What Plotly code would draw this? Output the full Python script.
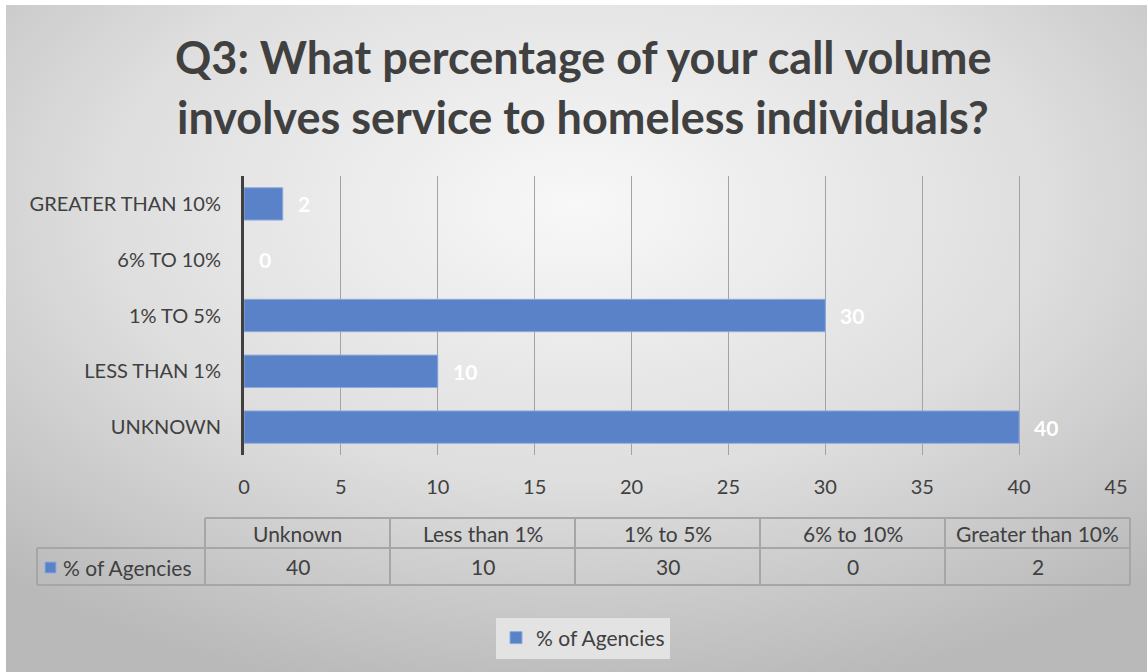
import base64
import plotly.graph_objects as go

# Survey responses (bottom-to-top order on the chart)
categories = ["Unknown", "Less than 1%", "1% to 5%", "6% to 10%", "Greater than 10%"]
axis_labels = ["UNKNOWN", "LESS THAN 1%", "1% TO 5%", "6% TO 10%", "GREATER THAN 10%"]
agencies_pct = [40, 10, 30, 0, 2]
series_name = "% of Agencies"
x_ticks = [0, 5, 10, 15, 20, 25, 30, 35, 40, 45]

W, H = 1147, 672
L, R, T, B = 244, 1116, 176, 455  # plot area in pixels

FONT = "Lato, 'Open Sans', sans-serif"
TEXT = "#404040"
BAR = "#5A82C9"
GRID = "#a3a3a3"


def px(x):
    return (x - L) / (R - L)


def py(y):
    return (B - y) / (B - T)


# Radial grey gradient behind the chart
svg = f"""<svg xmlns='http://www.w3.org/2000/svg' width='{W-6}' height='{H-5}' viewBox='0 0 {W-6} {H-5}'>
<defs><radialGradient id='g' cx='50%' cy='30%' r='75%' fx='50%' fy='30%'>
<stop offset='0' stop-color='#f8f8f8'/><stop offset='0.55' stop-color='#dedede'/><stop offset='1' stop-color='#b9b9b9'/>
</radialGradient></defs>
<rect width='100%' height='100%' fill='url(#g)'/></svg>"""
bg_uri = "data:image/svg+xml;base64," + base64.b64encode(svg.encode()).decode()

fig = go.Figure()
fig.add_trace(go.Bar(
    y=axis_labels, x=agencies_pct, orientation="h", name=series_name,
    width=0.58,
    marker=dict(color=BAR, line=dict(color="#8faadc",
                                     width=[0 if v == 0 else 1 for v in agencies_pct])),
    hoverinfo="skip",
))

annotations = []
# Value labels at the end of each bar
for lab, v in zip(axis_labels, agencies_pct):
    annotations.append(dict(x=v, y=lab, xref="x", yref="y", text=f"<b>{v}</b>",
                            showarrow=False, xanchor="left", xshift=13,
                            font=dict(family=FONT, size=21, color="white")))

# Two-line title
for text, yy in [("Q3: What percentage of your call volume", 57),
                 ("involves service to homeless individuals?", 117)]:
    annotations.append(dict(x=px(583), y=py(yy), xref="paper", yref="paper", text=f"<b>{text}</b>",
                            showarrow=False, xanchor="center", yanchor="middle",
                            font=dict(family=FONT, size=45, color=TEXT)))

# Data table under the axis
shapes = []
col_edges = [205, 390, 575, 760, 945, 1130]
row_top, row_mid, row_bot = 518, 548, 585
tbl_line = dict(color="#a6a6a6", width=2)


def hline(x0, x1, y):
    shapes.append(dict(type="line", xref="paper", yref="paper", x0=px(x0), x1=px(x1),
                       y0=py(y), y1=py(y), line=tbl_line, layer="above"))


def vline(x, y0, y1):
    shapes.append(dict(type="line", xref="paper", yref="paper", x0=px(x), x1=px(x),
                       y0=py(y0), y1=py(y1), line=tbl_line, layer="above"))


hline(col_edges[0], col_edges[-1], row_top)
hline(37, col_edges[-1], row_mid)
hline(37, col_edges[-1], row_bot)
vline(37, row_mid, row_bot)
for xe in col_edges:
    vline(xe, row_top, row_bot)

for i, (cat, v) in enumerate(zip(categories, agencies_pct)):
    cx = (col_edges[i] + col_edges[i + 1]) / 2
    annotations.append(dict(x=px(cx), y=py((row_top + row_mid) / 2), xref="paper", yref="paper",
                            text=cat, showarrow=False, xanchor="center", yanchor="middle",
                            font=dict(family=FONT, size=21, color=TEXT)))
    annotations.append(dict(x=px(cx), y=py((row_mid + row_bot) / 2), xref="paper", yref="paper",
                            text=str(v), showarrow=False, xanchor="center", yanchor="middle",
                            font=dict(family=FONT, size=21, color=TEXT)))

# Legend key inside the table's row header
shapes.append(dict(type="rect", xref="paper", yref="paper", x0=px(45), x1=px(56),
                   y0=py(573), y1=py(562), fillcolor=BAR, line=dict(color="#8faadc", width=1)))
annotations.append(dict(x=px(61), y=py(567), xref="paper", yref="paper", text=series_name,
                        showarrow=False, xanchor="left", yanchor="middle",
                        font=dict(family=FONT, size=21, color=TEXT)))

fig.update_layout(
    width=W, height=H,
    margin=dict(l=L, r=W - R, t=T, b=H - B, pad=0),
    paper_bgcolor="white", plot_bgcolor="rgba(0,0,0,0)",
    font=dict(family=FONT, size=20, color=TEXT),
    showlegend=True,
    legend=dict(orientation="h", x=px(583), y=py(638), xanchor="center", yanchor="middle",
                bgcolor="#e3e3e3", font=dict(family=FONT, size=21, color=TEXT),
                itemclick=False, itemdoubleclick=False),
    xaxis=dict(range=[0, 45], tickvals=x_ticks, showgrid=True, gridcolor=GRID, gridwidth=1,
               zeroline=False, showline=False, ticks="", ticklabelstandoff=18,
               tickfont=dict(family=FONT, size=20, color=TEXT), fixedrange=True),
    yaxis=dict(type="category", categoryorder="array", categoryarray=axis_labels,
               range=[-0.5, 4.5], showgrid=False, zeroline=False, showline=True,
               linecolor="#404040", linewidth=3, ticks="", ticklabelstandoff=16,
               tickfont=dict(family=FONT, size=20, color=TEXT), fixedrange=True),
    images=[dict(source=bg_uri, xref="paper", yref="paper", x=px(6), y=py(5),
                 sizex=(W - 6) / (R - L), sizey=(H - 5) / (B - T), xanchor="left", yanchor="top",
                 sizing="stretch", layer="below")],
    shapes=shapes,
    annotations=annotations,
)

fig.write_html("out.html", config={"displayModeBar": False})
